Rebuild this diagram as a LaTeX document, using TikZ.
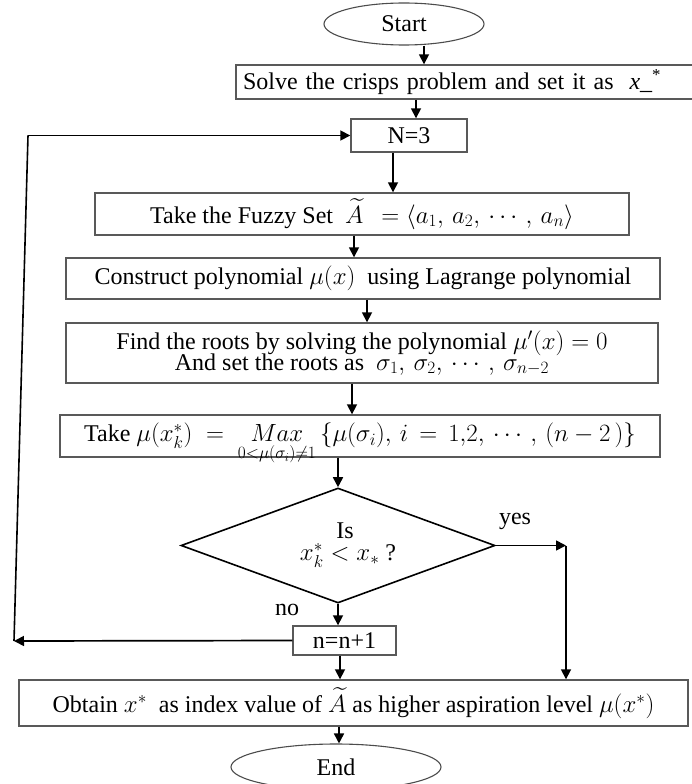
\documentclass[tikz,border=0pt]{standalone}
\usepackage{fontspec}
\setmainfont{Liberation Serif}
\usepackage{amsmath}
\usetikzlibrary{arrows.meta,shapes.geometric}
\begin{document}
\begin{tikzpicture}[x=1pt,y=-1pt,
  every node/.style={font=\fontsize{24}{25}\selectfont, text=black},
  procbox/.style={draw=black!65, line width=1.4pt, rectangle, inner sep=0pt, align=center},
  termin/.style={draw=black!70, line width=1.1pt, ellipse, inner sep=0pt},
  decis/.style={draw=black, line width=1.6pt, diamond, inner sep=0pt, aspect=2.73, align=center},
  arr/.style={draw=black, line width=1.7pt, -{Triangle[length=10pt,width=10pt]}},
  plain/.style={draw=black, line width=1.6pt},
  lbl/.style={inner sep=0pt}
]
\useasboundingbox (0,0) rectangle (691,784);

% nodes
\node[termin, minimum width=160pt, minimum height=42pt] (start) at (404,24) {Start};
\node[procbox, minimum width=464pt, minimum height=34pt, text width=450pt, inner xsep=7pt, align=left] (box1) at (468,82)
  {Solve the crisps problem and set it as \ \textit{x}\_\textsuperscript{*}};
\node[procbox, minimum width=116pt, minimum height=33pt] (n3) at (409,135.5) {N=3};
\node[procbox, minimum width=534pt, minimum height=42pt] (fuzzy) at (362,214)
  {Take the Fuzzy Set \ $\widetilde{A}\;\, = \langle a_1,\, a_2,\, \cdots,\, a_n\rangle$};
\node[procbox, minimum width=594pt, minimum height=41pt] (constr) at (363,278.5)
  {Construct polynomial $\mu(x)$ \ using Lagrange polynomial};
\node[procbox, minimum width=592pt, minimum height=60pt] (find) at (362,353)
  {Find the roots by solving the polynomial $\mu'(x) = 0$\\[-4pt] And set the roots as \ $\sigma_1,\, \sigma_2,\, \cdots,\, \sigma_{n-2}$};
\node[procbox, minimum width=600pt, minimum height=42pt] (takemu) at (360,436)
  {\raisebox{3pt}{Take $\mu(x_k^*) \;=\; \mathop{\smash[b]{\begin{array}[t]{@{}c@{}}Max\\[-8pt] \scriptstyle 0<\mu(\sigma_i)\neq 1\end{array}}}\,\{\mu(\sigma_i),\, i \,=\, 1{,}2{,}\,\cdots,\,(n-2\,)\}$}};
\node[decis, minimum width=314pt, minimum height=115pt] (dia) at (338,545.5)
  {\hspace*{14pt}Is\\[-3pt] \hspace*{20pt}$x_k^* < x_*$ ?};
\node[procbox, minimum width=103pt, minimum height=29pt] (inc) at (344.5,640.5) {n=n+1};
\node[procbox, minimum width=669pt, minimum height=46pt] (obtain) at (353.5,703)
  {Obtain $x^*$ \ as index value of $\widetilde{A}$ as higher aspiration level $\mu(x^*)$};
\node[termin, minimum width=210pt, minimum height=46pt] (endn) at (336,767) {End};

\node[lbl] (yes) at (515,521) {yes};
\node[lbl] (no) at (287,610) {no};

% helper coordinates
\coordinate (lb) at (14,641);
\coordinate (lt) at (28,135.5);
\coordinate (yc) at (566,545.5);

% connectors
\draw[arr] ([xshift=20pt]start.south) -- ([xshift=20pt]start.south |- box1.north);
\draw[arr] ([xshift=7pt]n3.north |- box1.south) -- ([xshift=7pt]n3.north);
\draw[arr] ([xshift=-16pt]n3.south) -- ([xshift=-16pt]n3.south |- fuzzy.north);
\draw[arr] ([xshift=-8pt]fuzzy.south) -- ([xshift=-8pt]fuzzy.south |- constr.north);
\draw[arr] ([xshift=4pt]constr.south) -- ([xshift=4pt]constr.south |- find.north);
\draw[arr] ([xshift=-10pt]find.south) -- ([xshift=-10pt]find.south |- takemu.north);
\draw[arr] (dia.north |- takemu.south) -- (dia.north);
\draw[arr] (dia.south) -- (dia.south |- inc.north);
\draw[arr] (dia.east) -- (yc);
\draw[arr] (yc) -- (yc |- obtain.north);
\draw[arr] ([xshift=-4.5pt]inc.south) -- ([xshift=-4.5pt]inc.south |- obtain.north);
\draw[arr] ([xshift=3pt]obtain.south -| endn.north) -- ([xshift=3pt]endn.north);
\draw[arr] (inc.west) -- (lb);
\draw[plain] (lb) -- (lt);
\draw[arr] (lt) -- (n3.west);
\end{tikzpicture}
\end{document}
